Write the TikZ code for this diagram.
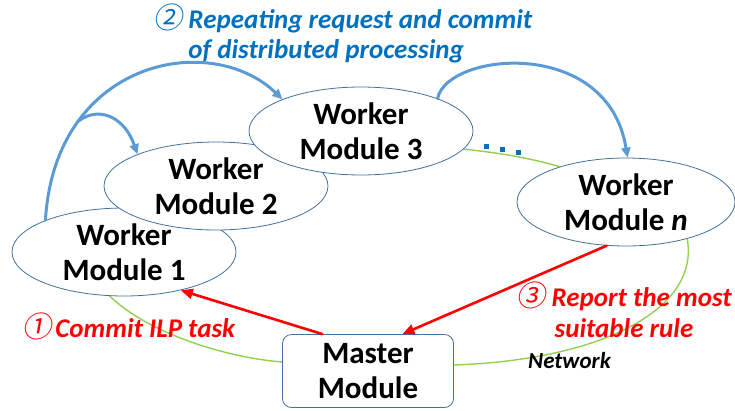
\documentclass[tikz,border=0pt]{standalone}
\usepackage{fontspec}
\setmainfont{Carlito}
\newfontfamily\circfont[FakeSlant=0.18,Scale=1.08]{Noto Sans CJK JP}
\usepackage{tikz}
\usetikzlibrary{arrows.meta,shapes.geometric,backgrounds}
\definecolor{wkedge}{HTML}{41719C}
\definecolor{wkblue}{HTML}{5B9BD5}
\definecolor{txblue}{HTML}{0070C0}
\definecolor{netgreen}{HTML}{92D050}
\definecolor{rpred}{HTML}{FF0000}
\tikzset{
  every picture/.style={line cap=round, line join=round},
  modtext/.style={font=\fontsize{31}{35}\selectfont\bfseries, align=center, text=black},
  worker/.style={modtext, ellipse, draw=wkedge, line width=0.8pt, fill=white,
    minimum width=224pt, minimum height=88pt, inner xsep=0pt, inner ysep=-6pt},
  masterbox/.style={modtext, rectangle, rounded corners=9pt, draw=wkedge, line width=0.8pt,
    fill=white, minimum width=171pt, minimum height=73pt, inner sep=0pt},
  netline/.style={netgreen, line width=1.4pt},
  loopflow/.style={wkblue, line width=3pt, -{Triangle[length=10pt,width=9pt]}},
  reportflow/.style={rpred, line width=2.6pt, -{Triangle[length=12pt,width=10pt]}},
  bluelbl/.style={font=\fontsize{27}{30}\selectfont\bfseries\itshape, text=txblue, inner sep=0pt},
  redlbl/.style={font=\fontsize{27}{31}\selectfont\bfseries\itshape, text=rpred, inner sep=0pt},
  netlbl/.style={font=\fontsize{23}{27}\selectfont\bfseries\itshape, text=black, inner sep=0pt},
}
\newcommand{\circno}[1]{{\circfont\mdseries #1}}

\begin{document}
\begin{tikzpicture}[x=1pt, y=-1pt]
\useasboundingbox (0,0) rectangle (735,410);
% the modules
\node[worker] (wm1) at (124,252) {Worker\\Module 1};
\node[worker] (wm2) at (216,186) {Worker\\Module 2};
\node[worker] (wm3) at (361,131) {Worker\\Module 3};
\node[worker, minimum width=218pt] (wmn) at (626,202) {Worker\\Module \textit{n}};
\node[masterbox] (master) at (368,371) {Master\\Module};
% the network behind them
\begin{scope}[on background layer]
  \draw[netline] (wm1.-108) .. controls (150,335) and (230,358) .. (master.174);
  \draw[netline] (master.4) .. controls (600,360) and (700,310) .. (wmn.-31);
  \draw[netline] (wm3.-10) .. controls (500,153) and (530,158) .. (wmn.152);
\end{scope}
\foreach \dx/\dy in {486/146, 502/149, 518/152}
  \fill[txblue] (\dx-2.5,\dy-2.5) rectangle ++(5,5);
% request and commit
\draw[loopflow] (wm1.158) .. controls (55,60) and (210,30) .. (wm3.158)
  coordinate[pos=0.26] (fork);
\draw[loopflow] (fork) .. controls (100,105) and (125,118) .. (wm2.158);
\draw[loopflow] (wm3.23) .. controls (447,52) and (608,36) .. (wmn.88);
% task and report
\draw[reportflow] (master.141) -- (wm1.-34);
\draw[reportflow] (wmn.-114) -- (master.47);
% labels
\node[bluelbl, anchor=north west, align=left] (repeatlbl) at (153,4)
  {\circno{②} Repeating request and commit\\\hphantom{\circno{②} }of distributed processing};
\node[redlbl, anchor=base west] (commitlbl) at (22,337) {\circno{①}\hspace{4pt}Commit ILP task};
\node[redlbl, anchor=north, align=center] (reportlbl) at (624,282)
  {\circno{③} Report the most\\suitable rule};
\node[netlbl, anchor=base west] (netlbl) at (528,368) {Network};
\end{tikzpicture}
\end{document}
